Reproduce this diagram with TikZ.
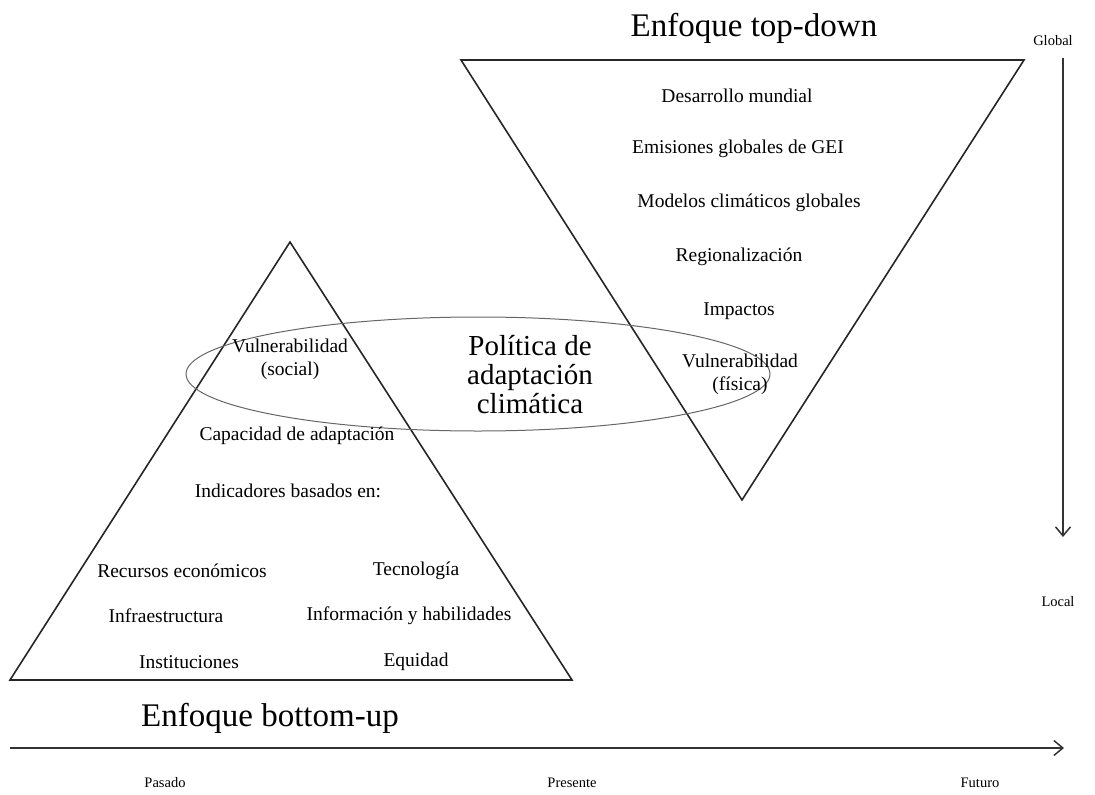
\documentclass[tikz,border=0pt]{standalone}
\usepackage{fontspec}
\setmainfont{Liberation Serif}
\usepackage{tikz}
\usetikzlibrary{arrows.meta}

\begin{document}
\begin{tikzpicture}[x=1pt,y=-1pt,
	txt/.style={font=\fontsize{19.5}{23}\selectfont, align=center, inner sep=0pt},
	big/.style={font=\fontsize{29}{29}\selectfont, align=center, inner sep=0pt},
	small/.style={font=\fontsize{14.5}{16}\selectfont, inner sep=0pt},
	title/.style={font=\fontsize{33}{35}\selectfont, inner sep=0pt},
	axis/.style={black!80, line width=1.5pt, -{Straight Barb[length=9pt,width=15pt,line width=1.5pt]}}]
	\useasboundingbox (0,0) rectangle (1095,795);
	% triangles
	\coordinate (tdA) at (461,60);
	\coordinate (tdB) at (1024,60);
	\coordinate (tdC) at (742,500);
	\coordinate (buA) at (290,242);
	\coordinate (buB) at (10,680);
	\coordinate (buC) at (572,680);
	\draw[black!85, line width=1.6pt] (tdA) -- (tdB) -- (tdC) -- cycle;
	\draw[black!85, line width=1.6pt] (buA) -- (buB) -- (buC) -- cycle;
	\draw[black!60, line width=1pt] (478,374) ellipse [x radius=292, y radius=57];
	% axes
	\coordinate (gl) at (1063,58);
	\coordinate (lo) at (1063,537);
	\coordinate (pa) at (10,748);
	\coordinate (fu) at (1064,748);
	\draw[axis] (gl) -- (lo);
	\draw[axis] (pa) -- (fu);
	\node[title] (topdown) at (754,28) {Enfoque top-down};
	\node[title] (bottomup) at (270,718) {Enfoque bottom-up};
	\node[small] (global) at (1053,41) {Global};
	\node[small] (local) at (1058,602) {Local};
	\node[small] (pasado) at (165,783) {Pasado};
	\node[small] (presente) at (572,783) {Presente};
	\node[small] (futuro) at (980,783) {Futuro};
	% top-down
	\node[txt] (desarrollo) at (737,96) {Desarrollo mundial};
	\node[txt] (emisiones) at (738,149) {Emisiones globales de GEI};
	\node[txt] (modelos) at (749,203) {Modelos climáticos globales};
	\node[txt] (region) at (739,257) {Regionalización};
	\node[txt] (impactos) at (739,311) {Impactos};
	\node[txt] (vulfis) at (740,374) {Vulnerabilidad\\(física)};
	\node[big] (politica) at (530,375) {Política de\\adaptación\\climática};
	% bottom-up
	\node[txt] (vulsoc) at (290,359) {Vulnerabilidad\\(social)};
	\node[txt] (capacidad) at (297,436) {Capacidad de adaptación};
	\node[txt] (indicadores) at (288,491) {Indicadores basados en:};
	\node[txt] (recursos) at (182,571) {Recursos económicos};
	\node[txt] (tecno) at (416,571) {Tecnología};
	\node[txt] (infra) at (166,616) {Infraestructura};
	\node[txt] (info) at (409,616) {Información y habilidades};
	\node[txt] (inst) at (189,662) {Instituciones};
	\node[txt] (equidad) at (416,662) {Equidad};
\end{tikzpicture}
\end{document}
